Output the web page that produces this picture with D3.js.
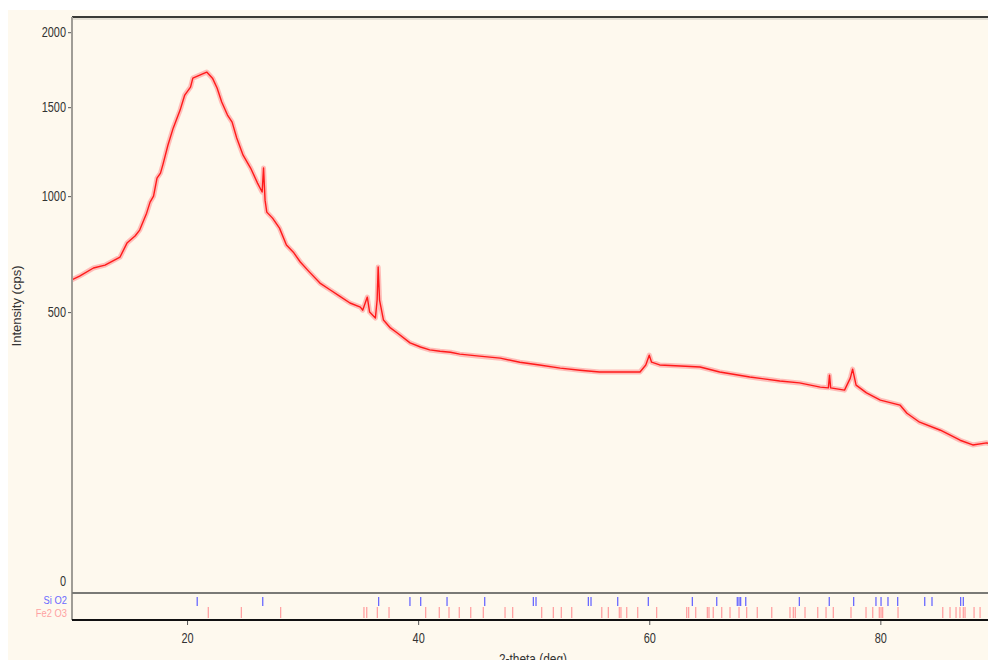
<!DOCTYPE html>
<html><head><meta charset="utf-8">
<script src="https://cdn.jsdelivr.net/npm/d3@7/dist/d3.min.js"></script>
<style>html,body{margin:0;padding:0;background:#fff;overflow:hidden}</style>
</head><body>
<svg id="c" width="988" height="660"></svg>
<script>
const twoTheta = [10.0,10.7,11.9,12.9,14.2,14.8,15.5,15.9,16.5,16.8,17.1,17.4,17.7,17.9,18.35,18.8,19.4,19.8,20.3,20.5,21.1,21.7,22.2,22.6,23.0,23.5,23.9,24.3,24.85,25.5,26.1,26.5,26.62,26.75,26.9,27.4,28.0,28.6,29.2,29.8,30.6,31.5,32.4,33.2,34.1,35.0,35.2,35.6,35.8,36.3,36.45,36.54,36.66,37.0,37.6,38.2,39.3,40.2,41.0,41.9,42.8,43.6,45.3,47.1,48.8,50.5,52.3,54.0,55.7,57.5,59.2,59.7,60.0,60.2,60.9,62.7,64.4,66.1,68.7,71.3,73.0,74.8,75.5,75.6,75.7,76.9,77.4,77.6,77.9,78.8,80.0,81.7,82.3,83.4,85.2,86.9,88.0,89.2,90.0];
const intensity = [621,637,670,682,716,777,809,836,916,970,1000,1093,1120,1163,1275,1373,1482,1576,1627,1685,1705,1725,1685,1621,1532,1452,1409,1315,1218,1147,1067,1021,1147,980,921,892,845,768,737,695,653,609,582,559,533,518,507,555,500,479,544,674,544,472,445,428,396,383,374,370,367,361,355,349,337,329,320,314,309,309,309,329,358,337,329,326,323,309,295,284,279,268,266,300,266,260,292,317,273,253,235,223,204,184,167,147,138,142,136];
// reference pattern stick positions (2-theta, deg)
const sio2Ref = [20.88,26.55,36.58,39.29,40.22,42.50,45.76,49.97,50.20,54.73,54.96,57.27,59.92,63.73,65.84,67.62,67.77,67.91,68.35,72.99,75.58,77.69,79.62,80.06,80.66,81.50,83.84,84.47,86.95,87.18];
const fe2o3Ref = [21.84,24.70,28.10,35.31,35.55,36.47,37.48,40.65,41.83,42.67,43.56,44.55,45.64,47.52,48.18,50.69,51.70,52.39,53.29,55.89,56.46,57.41,57.55,58.05,59.0,60.64,63.24,63.41,64.02,65.03,65.17,65.54,66.27,66.99,67.77,68.43,69.35,70.60,72.18,72.47,72.64,73.48,74.58,75.30,75.93,77.46,78.76,79.34,79.91,80.06,80.20,81.53,85.40,86.03,86.55,86.89,87.18,87.33,88.11,88.63];
const yTicks = [0,500,1000,1500,2000];
const xTicks = [20,40,60,80];

const svg = d3.select("#c");
const sans = "'Liberation Sans',Arial,sans-serif";
function condense(sel, f){ sel.each(function(){ const n=this; const w=n.getComputedTextLength(); n.setAttribute("textLength", (w*f).toFixed(2)); n.setAttribute("lengthAdjust","spacingAndGlyphs"); }); }

svg.append("rect").attr("x",8).attr("y",10).attr("width",980).attr("height",650).attr("fill","#fef9ee");

const L = 72, T = 17, Y0 = 592, STRIP = 620, R = 996;
const x = d3.scaleLinear().domain([10,90]).range([71.5,995.9]);
const y = d3.scaleSqrt().domain([0,2110]).range([Y0,T]);

svg.append("clipPath").attr("id","clip").append("rect").attr("x",L).attr("y",T).attr("width",R-L).attr("height",Y0-T);

// frame
svg.append("line").attr("x1",L).attr("x2",R).attr("y1",T).attr("y2",T).attr("stroke","#3a3a36").attr("stroke-width",2);
svg.append("line").attr("x1",L).attr("x2",R).attr("y1",T+2).attr("y2",T+2).attr("stroke","#c8c4b8").attr("stroke-width",1);

// data line (soft halo + core stroke)
const data = twoTheta.map((t,i)=>[t,intensity[i]]);
const lineGen = d3.line().x(d=>x(d[0])).y(d=>y(d[1]));
svg.append("path").datum(data).attr("clip-path","url(#clip)").attr("d", lineGen)
  .attr("fill","none").attr("stroke","#ff8c8c").attr("stroke-opacity",0.55).attr("stroke-width",5).attr("stroke-linejoin","round");
svg.append("path").datum(data).attr("clip-path","url(#clip)").attr("d", lineGen)
  .attr("fill","none").attr("stroke","#ff1a1a").attr("stroke-width",1.4).attr("stroke-linejoin","round");

// y axis
const yAx = svg.append("g").attr("transform",`translate(${L},0)`)
  .call(d3.axisLeft(y).tickValues(yTicks).tickSize(4).tickPadding(2).tickFormat(d3.format("d")));
yAx.select(".domain").remove();
yAx.selectAll(".tick line").attr("stroke","#555").attr("opacity",d=>d===0?0:1);
yAx.selectAll(".tick text").attr("font-family",sans).attr("font-size",14).attr("fill","#333")
  .attr("dy",d=>d===0?"-0.45em":"0.32em");
condense(yAx.selectAll(".tick text"),0.78);
svg.append("line").attr("x1",L).attr("x2",L).attr("y1",T).attr("y2",STRIP).attr("stroke","#a09d96").attr("stroke-width",2);

// zero line / strip
svg.append("line").attr("x1",L).attr("x2",R).attr("y1",Y0+1).attr("y2",Y0+1).attr("stroke","#7a7a76").attr("stroke-width",2);

svg.append("g").selectAll("line").data(sio2Ref).join("line")
  .attr("x1",d=>x(d)).attr("x2",d=>x(d)).attr("y1",597).attr("y2",606)
  .attr("stroke","#6a6aff").attr("stroke-width",1.3);
svg.append("g").selectAll("line").data(fe2o3Ref).join("line")
  .attr("x1",d=>x(d)).attr("x2",d=>x(d)).attr("y1",607).attr("y2",618)
  .attr("stroke","#ffa2a2").attr("stroke-width",1.3);

const lab1 = svg.append("text").attr("x",67).attr("y",604).attr("text-anchor","end").attr("font-family",sans)
  .attr("font-size",11).attr("fill","#6a6aff").text("Si O2");
const lab2 = svg.append("text").attr("x",67).attr("y",617).attr("text-anchor","end").attr("font-family",sans)
  .attr("font-size",11).attr("fill","#ffa2a2").text("Fe2 O3");
condense(lab1,0.85); condense(lab2,0.85);

// x axis
const xAx = svg.append("g").attr("transform",`translate(0,${STRIP})`)
  .call(d3.axisBottom(x).tickValues(xTicks).tickSize(5).tickPadding(8).tickFormat(d3.format("d")));
xAx.select(".domain").remove();
xAx.selectAll(".tick line").attr("stroke","#555");
xAx.selectAll(".tick text").attr("font-family",sans).attr("font-size",14).attr("fill","#333");
condense(xAx.selectAll(".tick text"),0.78);
svg.append("line").attr("x1",L).attr("x2",R).attr("y1",STRIP).attr("y2",STRIP).attr("stroke","#111").attr("stroke-width",2);

// titles
svg.append("text").attr("transform","translate(21,306) rotate(-90)").attr("text-anchor","middle")
  .attr("font-family",sans).attr("font-size",13).attr("fill","#333").text("Intensity (cps)");
const xt = svg.append("text").attr("x",533).attr("y",664).attr("text-anchor","middle")
  .attr("font-family",sans).attr("font-size",14).attr("fill","#333").text("2-theta (deg)");
condense(xt,0.85);
</script>
</body></html>
